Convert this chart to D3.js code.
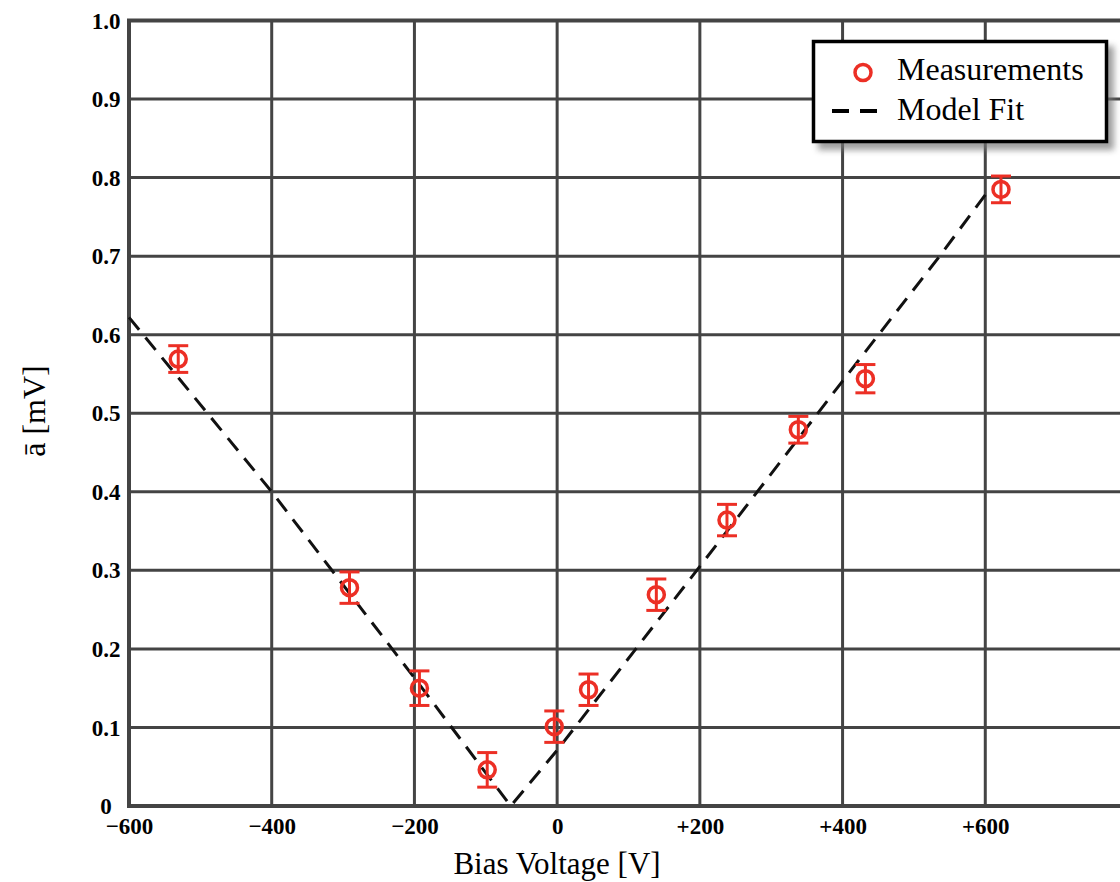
<!DOCTYPE html>
<html>
<head>
<meta charset="utf-8">
<script src="https://cdn.jsdelivr.net/npm/d3@7"></script>
<style>
  html, body { margin: 0; padding: 0; background: #fff; }
  svg { display: block; }
  text { font-family: "Liberation Serif", "DejaVu Serif", serif; fill: #000; }
</style>
</head>
<body>
<script>
var biasV   = [-531, -291, -193, -98, -4, 44, 139, 238, 338, 432, 622];
var meanA   = [0.569, 0.278, 0.150, 0.046, 0.101, 0.148, 0.269, 0.364, 0.479, 0.544, 0.785];
var errA    = [0.017, 0.020, 0.022, 0.022, 0.020, 0.020, 0.020, 0.020, 0.017, 0.018, 0.017];

// dashed model fit
var fitV = [-600, -400, -200, -65, 0, 200, 400, 536, 600];
var fitA = [0.622, 0.400, 0.163, 0, 0.071, 0.305, 0.541, 0.700, 0.778];

// grid lines run to +800 (off the right edge), labels stop at +600
var xGrid = [-600, -400, -200, 0, 200, 400, 600, 800];
var xTicks = [-600, -400, -200, 0, 200, 400, 600];
var xTickLabels = ["\u2212600", "\u2212400", "\u2212200", "0", "+200", "+400", "+600"];
var yTicks = [0, 0.1, 0.2, 0.3, 0.4, 0.5, 0.6, 0.7, 0.8, 0.9, 1.0];
var yTickLabels = ["0", "0.1", "0.2", "0.3", "0.4", "0.5", "0.6", "0.7", "0.8", "0.9", "1.0"];

var legendNames = ["Measurements", "Model Fit"];

var W = 1120, H = 882;
var red = "#ec2f25", gridCol = "#444";

var x = d3.scaleLinear().domain([-600, 800]).range([129, 1128]);
var y = d3.scaleLinear().domain([0, 1]).range([806, 20.5]);

var svg = d3.select("body").append("svg")
  .attr("width", W)
  .attr("height", H);

var defs = svg.append("defs");
defs.append("filter")
    .attr("id", "shadow")
    .attr("x", "-20%").attr("y", "-30%")
    .attr("width", "140%").attr("height", "160%")
  .append("feGaussianBlur")
    .attr("stdDeviation", 3);

// grid
var grid = svg.append("g").attr("class", "grid");
grid.selectAll("line.v").data(xGrid).enter().append("line")
  .attr("class", "v")
  .attr("x1", function(d) { return x(d); })
  .attr("x2", function(d) { return x(d); })
  .attr("y1", y(0)).attr("y2", y(1))
  .attr("stroke", gridCol).attr("stroke-width", 3);
grid.selectAll("line.h").data(yTicks).enter().append("line")
  .attr("class", "h")
  .attr("x1", x(-600)).attr("x2", x(800))
  .attr("y1", function(d) { return y(d); })
  .attr("y2", function(d) { return y(d); })
  .attr("stroke", gridCol).attr("stroke-width", 3);

// frame
svg.append("rect")
  .attr("x", x(-600)).attr("y", y(1))
  .attr("width", x(800) - x(-600))
  .attr("height", y(0) - y(1))
  .attr("fill", "none")
  .attr("stroke", gridCol).attr("stroke-width", 4);

// axes (ticks hidden, labels only)
var xAxis = d3.axisBottom(x)
  .tickValues(xTicks)
  .tickSize(0)
  .tickPadding(12)
  .tickFormat(function(d, i) { return xTickLabels[i]; });
var gx = svg.append("g")
  .attr("transform", "translate(0," + y(0) + ")")
  .call(xAxis);
gx.select(".domain").remove();
gx.selectAll("text")
  .attr("font-family", "Liberation Serif, DejaVu Serif, serif")
  .attr("font-size", 23)
  .attr("font-weight", "bold")
  .attr("fill", "#000");

var gy = svg.append("g").attr("class", "yaxis");
gy.selectAll("text").data(yTicks).enter().append("text")
  .attr("x", 106)
  .attr("y", function(d) { return y(d); })
  .attr("dy", "0.35em")
  .attr("text-anchor", "middle")
  .attr("font-size", 23)
  .attr("font-weight", "bold")
  .text(function(d, i) { return yTickLabels[i]; });

// axis titles
svg.append("text")
  .attr("x", 557)
  .attr("y", 874)
  .attr("text-anchor", "middle")
  .attr("font-size", 31)
  .text("Bias Voltage [V]");

svg.append("text")
  .attr("transform", "translate(45,411) rotate(-90)")
  .attr("text-anchor", "middle")
  .attr("font-size", 32)
  .text("\u0101 [mV]");

// model fit
var line = d3.line()
  .x(function(d) { return x(d[0]); })
  .y(function(d) { return y(d[1]); });
svg.append("path")
  .datum(d3.zip(fitV, fitA))
  .attr("d", line)
  .attr("fill", "none")
  .attr("stroke", "#111")
  .attr("stroke-width", 3)
  .attr("stroke-dasharray", "16,10");

// measurements with error bars
var pts = svg.append("g").selectAll("g")
  .data(d3.range(biasV.length))
  .enter().append("g");

pts.append("line")
  .attr("x1", function(i) { return x(biasV[i]); })
  .attr("x2", function(i) { return x(biasV[i]); })
  .attr("y1", function(i) { return y(meanA[i] - errA[i]); })
  .attr("y2", function(i) { return y(meanA[i] + errA[i]); })
  .attr("stroke", red).attr("stroke-width", 3);
[-1, 1].forEach(function(s) {
  pts.append("line")
    .attr("x1", function(i) { return x(biasV[i]) - 10; })
    .attr("x2", function(i) { return x(biasV[i]) + 10; })
    .attr("y1", function(i) { return y(meanA[i] + s * errA[i]); })
    .attr("y2", function(i) { return y(meanA[i] + s * errA[i]); })
    .attr("stroke", red).attr("stroke-width", 3);
});
pts.append("circle")
  .attr("cx", function(i) { return x(biasV[i]); })
  .attr("cy", function(i) { return y(meanA[i]); })
  .attr("r", 8)
  .attr("fill", "none")
  .attr("stroke", red).attr("stroke-width", 3.5);

// legend
var lg = svg.append("g").attr("class", "legend");
lg.append("rect")
  .attr("x", 818).attr("y", 46)
  .attr("width", 296).attr("height", 104)
  .attr("fill", "#777")
  .attr("opacity", 0.7)
  .attr("filter", "url(#shadow)");
lg.append("rect")
  .attr("x", 813.5).attr("y", 41.5)
  .attr("width", 293).attr("height", 100)
  .attr("fill", "#fff")
  .attr("stroke", "#000").attr("stroke-width", 3.5);

lg.append("circle")
  .attr("cx", 863).attr("cy", 72.5).attr("r", 8)
  .attr("fill", "none")
  .attr("stroke", red).attr("stroke-width", 3.5);
lg.append("line")
  .attr("x1", 832).attr("x2", 877)
  .attr("y1", 111).attr("y2", 111)
  .attr("stroke", "#000").attr("stroke-width", 4)
  .attr("stroke-dasharray", "17,11");

lg.selectAll("text.name").data(legendNames).enter().append("text")
  .attr("class", "name")
  .attr("x", 897)
  .attr("y", function(d, i) { return 80 + i * 40; })
  .attr("font-size", 32)
  .text(function(d) { return d; });
</script>
</body>
</html>
